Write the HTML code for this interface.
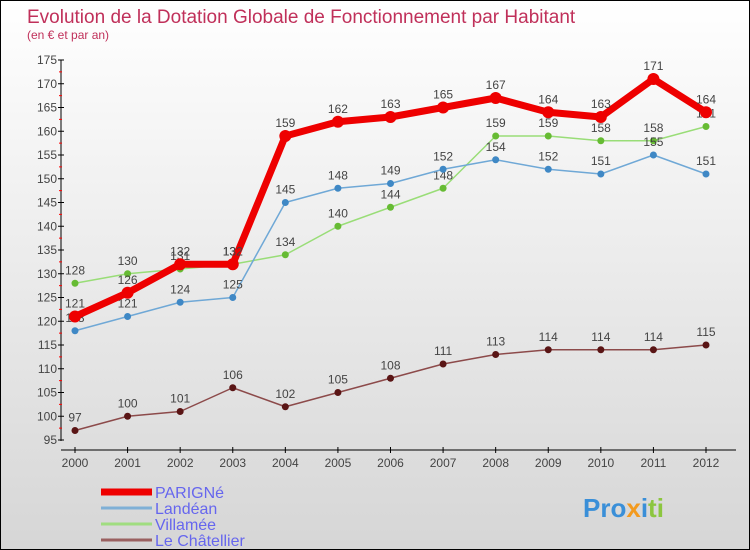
<!DOCTYPE html>
<html><head><meta charset="utf-8"><style>
body{margin:0}
#c{width:748px;height:548px;border:1px solid #000;background:linear-gradient(#ffffff,#d6d6d6);position:relative;font-family:"Liberation Sans",sans-serif}
</style></head><body>
<div id="c">
<svg id="s" width="748" height="548" style="position:absolute;left:0;top:0">
<text x="26" y="22" font-size="19" fill="#c0305a">Evolution de la Dotation Globale de Fonctionnement par Habitant</text>
<text x="26" y="38" font-size="12" fill="#c0305a">(en € et par an)</text>
</svg>
</div>
<script>
const years=[2000,2001,2002,2003,2004,2005,2006,2007,2008,2009,2010,2011,2012];
const parigne=[121,126,132,132,159,162,163,165,167,164,163,171,164];
const landean=[118,121,124,125,145,148,149,152,154,152,151,155,151];
const villamee=[128,130,131,132,134,140,144,148,159,159,158,158,161];
const chatellier=[97,100,101,106,102,105,108,111,113,114,114,114,115];
const yTicks=[95,100,105,110,115,120,125,130,135,140,145,150,155,160,165,170,175];
const seriesNames=["PARIGNé","Landéan","Villamée","Le Châtellier"];
const NS="http://www.w3.org/2000/svg",s=document.getElementById('s');
const X=i=>74+i*(705-74)/(years.length-1);
const Y=v=>439-(v-95)*(439-59)/80;
function el(t,a,p){const e=document.createElementNS(NS,t);for(const k in a)e.setAttribute(k,a[k]);(p||s).appendChild(e);return e;}
let e=el('line',{x1:60,y1:59,x2:60,y2:440,stroke:'#000'});


e=el('line',{x1:60,y1:449,x2:735,y2:449,stroke:'#000'});


yTicks.forEach(v=>{
 el('line',{x1:57,x2:63,y1:Y(v),y2:Y(v),stroke:'#000'});
 if(v<175)el('line',{x1:58,x2:61,y1:Y(v+2.5),y2:Y(v+2.5),stroke:'#f00'});
 const t=el('text',{x:56,y:Y(v)+4,'font-size':12,'text-anchor':'end',fill:'#444'});t.textContent=v;
 
 
});
years.forEach((y,i)=>{
 el('line',{x1:X(i),x2:X(i),y1:446,y2:452,stroke:'#000'});
 const t=el('text',{x:X(i),y:466,'font-size':12,'text-anchor':'middle',fill:'#444'});t.textContent=y;
 
 
});
function series(d,col,w,r,dot,name){
 const g=el('g',{});
 
 
 el('polyline',{points:d.map((v,i)=>X(i)+','+Y(v)).join(' '),fill:'none',stroke:col,'stroke-width':w,'stroke-linejoin':'round'},g);
 d.forEach((v,i)=>{
  const c=el('circle',{cx:X(i),cy:Y(v),r:r,fill:dot},g);
  
  
  const t=el('text',{x:X(i),y:Y(v)-9,'font-size':12,'text-anchor':'middle',fill:'#444'},g);t.textContent=v;
 });
}
series(chatellier,'#8c4a4a',1.5,3.5,'#5a1515','le-chatellier');
series(villamee,'#99dd77',1.5,3.5,'#66bb33','villamee');
series(landean,'#6fa8d6',1.5,3.5,'#3f88c5','landean');
series(parigne,'#ee0000',7,6,'#ee0000','parigne');
const lc=['#ee0000','#7fb0d6','#a0dd80','#9a6060'],lw=[7,3,3,3];
seriesNames.forEach((n,i)=>{
 const y=491+i*16;
 const g=el('g',{});
 
 
 el('line',{x1:100,x2:151,y1:y,y2:y,stroke:lc[i],'stroke-width':lw[i]},g);
 const t=el('text',{x:154,y:y+6,'font-size':16,fill:'#6666ee'},g);t.textContent=n;
});
const lg=el('text',{x:582,y:516,'font-size':26,'font-weight':'bold',fill:'#f39a1e'});
lg.innerHTML='<tspan fill="#3a8fd8">Pro</tspan><tspan fill="#f39a1e">x</tspan><tspan fill="#3a8fd8">i</tspan><tspan fill="#8cc63f">ti</tspan>';


</script>
</body></html>
